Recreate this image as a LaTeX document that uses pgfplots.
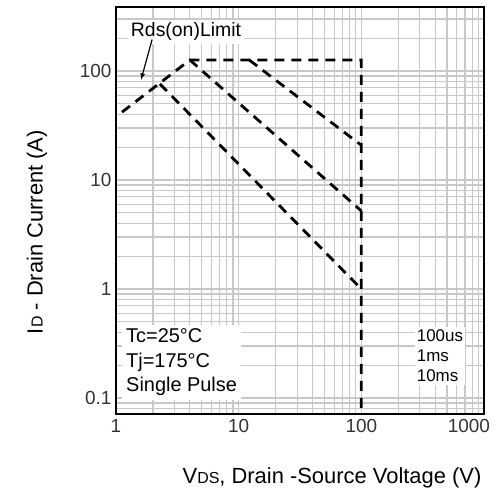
\documentclass[border=0pt]{standalone}
\usepackage{fontspec}
\setmainfont{Liberation Sans}
\usepackage{pgfplots}
\pgfplotsset{compat=1.18}
\definecolor{gridc}{HTML}{C8C8C8}
\begin{document}
\begin{tikzpicture}
\path[use as bounding box] (-116bp,-76bp) rectangle (386bp,414bp);
\begin{axis}[
  scale only axis,
  width=368bp, height=407bp,
  xmode=log, ymode=log,
  xmin=1, xmax=1000, ymin=0.0713, ymax=386,
  xtick={1,10,100,1000}, xticklabels={1,10,100,\makebox[12bp][r]{1000}},
  ytick={0.1,1,10,100}, yticklabels={0.1,1,10,100},
  minor xtick={2,3,4,5,6,7,8,9,20,30,40,50,60,70,80,90,200,300,400,500,600,700,800,900},
  minor ytick={0.08,0.09,0.2,0.3,0.4,0.5,0.6,0.7,0.8,0.9,2,3,4,5,6,7,8,9,20,30,40,50,60,70,80,90,200,300},
  /pgf/number format/assume math mode=true,
  grid=both,
  major grid style={gridc, line width=1.2bp},
  minor grid style={gridc, line width=1.2bp},
  tick style={gridc, line width=1bp},
  major tick length=8bp, minor tick length=8bp,
  axis line style={black, line width=2.2bp},
  tick label style={font=\fontsize{19}{19}\selectfont, text=black!80},
  xticklabel style={yshift=-2bp},
  yticklabel style={xshift=-1bp},
  xlabel={V{\fontsize{16}{16}\selectfont DS}, Drain -Source Voltage (V)},
  ylabel={I{\fontsize{16}{16}\selectfont D} - Drain Current (A)},
  label style={font=\fontsize{22}{22}\selectfont},
  xlabel style={at={(rel axis cs:0.587,-0.157)}, anchor=center},
  ylabel style={at={(rel axis cs:-0.2147,0.447)}, anchor=center},
  clip=false,
]
% white boxes behind texts
\node[fill=white, anchor=center, inner sep=3bp, font=\fontsize{19.5}{19.5}\selectfont] at (axis cs:3.72,229) {Rds(on)Limit};
\node[fill=white, anchor=north west, inner xsep=4bp, inner ysep=4bp, align=left,
      font=\fontsize{20}{24.5}\selectfont] at (axis cs:1.12,0.47) {Tc=25°C\\Tj=175°C\\Single Pulse};
\node[fill=white, anchor=north west, inner xsep=2bp, inner ysep=3bp, align=left,
      font=\fontsize{17}{20}\selectfont] at (axis cs:272,0.45) {100us\\1ms\\10ms};
% Rds(on) limit and 100us envelope
\addplot[black, line width=2.8bp, dash pattern=on 10bp off 7bp] coordinates {
  (1.12,41.9) (4.0,126) (100,126) (100,0.0713)
};
% 100us
\addplot[black, line width=2.8bp, dash pattern=on 10bp off 7bp] coordinates {
  (12.2,126) (100,20.8)
};
% 1ms
\addplot[black, line width=2.8bp, dash pattern=on 10bp off 7bp] coordinates {
  (4.0,126) (100,5.2)
};
% 10ms
\addplot[black, line width=2.8bp, dash pattern=on 10bp off 7bp] coordinates {
  (2.28,76) (100,1.0)
};
\draw[-{latex}, black, line width=1.2bp] (axis cs:1.97,194) -- (axis cs:1.6,83);
\end{axis}
\end{tikzpicture}
\end{document}
